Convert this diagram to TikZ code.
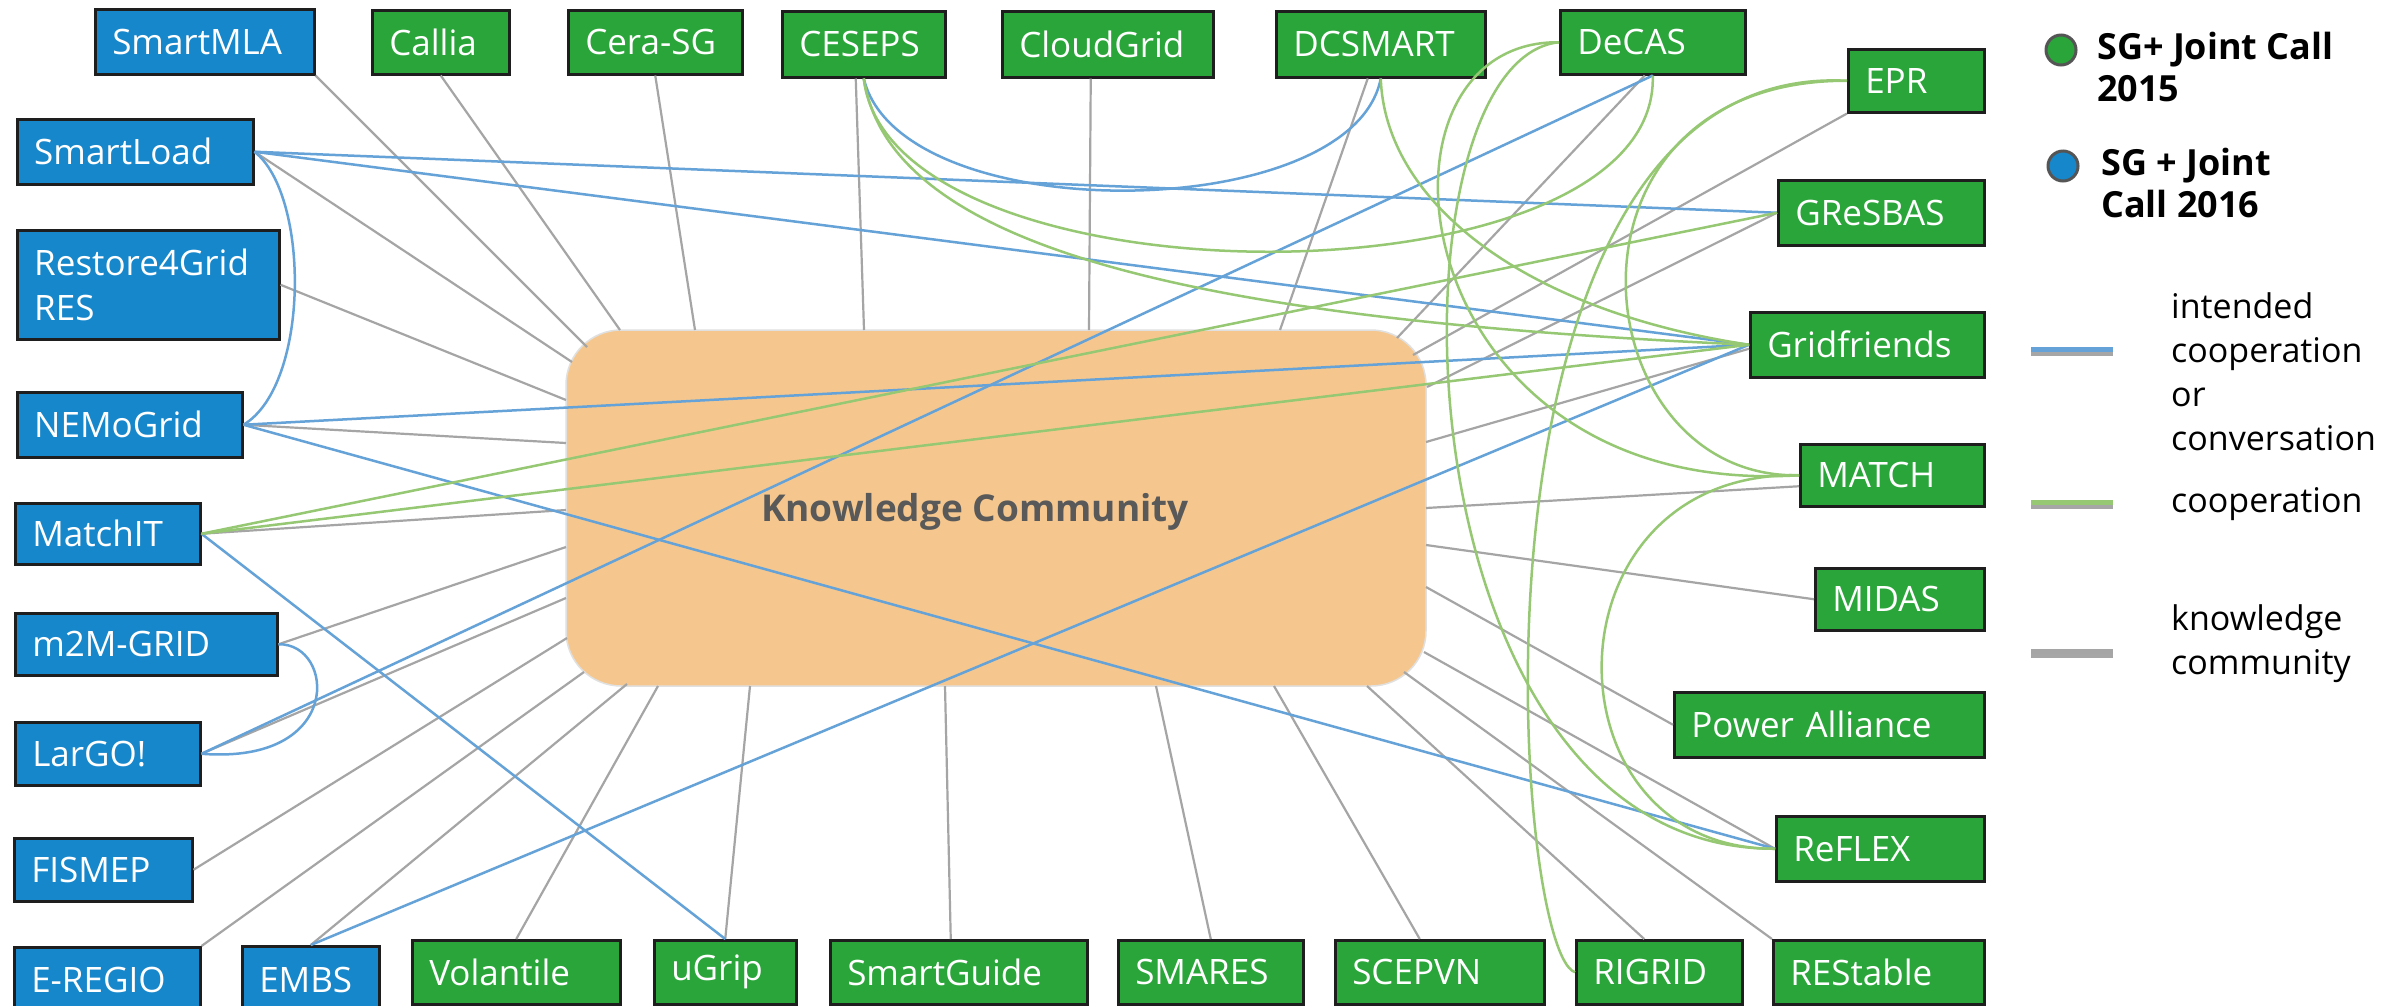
\documentclass[tikz,border=0pt]{standalone}
\usepackage{fontspec}
\setmainfont{Open Sans}
\usetikzlibrary{calc}
\definecolor{boxblue}{RGB}{23,135,203}
\definecolor{boxgreen}{RGB}{41,165,57}
\definecolor{boxline}{RGB}{30,30,30}
\definecolor{kcfill}{RGB}{245,199,142}
\definecolor{kctext}{RGB}{89,89,89}
\definecolor{lblue}{RGB}{100,162,215}
\definecolor{lgreen}{RGB}{150,200,115}
\definecolor{kgray}{RGB}{165,165,165}
\definecolor{legring}{RGB}{85,85,85}
\newcommand\pbox[7]{\node[#2, minimum width=#5pt-#3pt, minimum height=#6pt-#4pt, text width=#5pt-#3pt-34pt] (#1) at (#3,#4) {#7};}
\begin{document}
\begin{tikzpicture}[x=1pt,y=-1pt,
  proj/.style={draw=boxline, line width=2.5pt, text=white, font={\fontsize{35}{45}\selectfont}, inner xsep=17pt, inner ysep=0pt, align=left, anchor=north west},
  bluebox/.style={proj, fill=boxblue},
  greenbox/.style={proj, fill=boxgreen},
  kline/.style={draw=kgray, line width=2.2pt},
  bline/.style={draw=lblue, line width=2.5pt},
  gline/.style={draw=lgreen, line width=2.5pt},
  legtext/.style={font={\fontsize{34}{44}\selectfont}, align=left, anchor=west, inner sep=0pt, text=black},
  legtitle/.style={font={\bfseries\fontsize{36}{42}\selectfont}, align=left, anchor=west, inner sep=0pt, text=black},
  legdot/.style={circle, draw=legring, line width=3pt, minimum size=30pt, inner sep=0pt},
  legshadow/.style={draw=gray!70, line width=5pt},
]
\useasboundingbox (0,0) rectangle (2402,1005);
\clip (0,0) rectangle (2402,1005);
\fill[white] (0,0) rectangle (2402,1005);

% central knowledge community
\node[fill=kcfill, draw=black!12, line width=1.5pt, rounded corners=55pt, minimum width=860pt, minimum height=356pt, inner sep=0pt] (KC) at (996,508) {};

% project boxes: top row
\pbox{SmartMLA}{bluebox}{94}{8}{313}{73}{SmartMLA}
\pbox{Callia}{greenbox}{371}{9}{508}{73}{Callia}
\pbox{CeraSG}{greenbox}{567}{9}{741}{73}{Cera-SG}
\pbox{CESEPS}{greenbox}{781}{10}{944}{76}{CESEPS}
\pbox{CloudGrid}{greenbox}{1001}{10}{1212}{76}{CloudGrid}
\pbox{DCSMART}{greenbox}{1275}{10}{1484}{76}{DCSMART}
\pbox{DeCAS}{greenbox}{1559}{9}{1744}{73}{DeCAS}
% right column
\pbox{EPR}{greenbox}{1847}{48}{1983}{111}{EPR}
\pbox{GReSBAS}{greenbox}{1777}{179}{1983}{244}{GReSBAS}
\pbox{Gridfriends}{greenbox}{1749}{311}{1983}{376}{Gridfriends}
\pbox{MATCH}{greenbox}{1799}{443}{1983}{505}{MATCH}
\pbox{MIDAS}{greenbox}{1814}{567}{1983}{629}{MIDAS}
\pbox{PowerAll}{greenbox}{1673}{691}{1983}{756}{Power Alliance}
\pbox{ReFLEX}{greenbox}{1775}{815}{1983}{880}{ReFLEX}
\pbox{REStable}{greenbox}{1772}{939}{1983}{1003}{REStable}
% bottom row
\pbox{RIGRID}{greenbox}{1575}{939}{1741}{1003}{RIGRID}
\pbox{SCEPVN}{greenbox}{1334}{939}{1543}{1003}{SCEPVN}
\pbox{SMARES}{greenbox}{1117}{939}{1302}{1003}{SMARES}
\pbox{SmartGuide}{greenbox}{829}{939}{1086}{1003}{SmartGuide}
\pbox{uGrip}{greenbox}{653}{939}{795}{1003}{uGrip}
\pbox{Volantile}{greenbox}{411}{939}{619}{1003}{Volantile}
\pbox{EMBS}{bluebox}{241}{945}{378}{1012}{EMBS}
\pbox{EREGIO}{bluebox}{13}{946}{199}{1012}{E-REGIO}
% left column
\pbox{SmartLoad}{bluebox}{16}{118}{252}{183}{SmartLoad}
\pbox{Restore}{bluebox}{16}{229}{278}{338}{Restore4Grid\\RES}
\pbox{NEMoGrid}{bluebox}{16}{391}{241}{456}{NEMoGrid}
\pbox{MatchIT}{bluebox}{14}{502}{199}{563}{MatchIT}
\pbox{mMGRID}{bluebox}{14}{612}{276}{674}{m2M-GRID}
\pbox{LarGO}{bluebox}{14}{721}{199}{784}{LarGO!}
\pbox{FISMEP}{bluebox}{13}{837}{191}{900}{FISMEP}

% end points on the knowledge community border
\coordinate (kSmartMLA) at (587,347);
\coordinate (kCallia) at (620,330);
\coordinate (kCeraSG) at (695,330);
\coordinate (kCESEPS) at (864,330);
\coordinate (kCloudGrid) at (1089,330);
\coordinate (kDCSMART) at (1280,330);
\coordinate (kDeCAS) at (1397,338);
\coordinate (kEPR) at (1413,355);
\coordinate (kGReSBAS) at (1427,387);
\coordinate (kGridfriends) at (1426,442);
\coordinate (kMATCH) at (1426,508);
\coordinate (kMIDAS) at (1426,545);
\coordinate (kPowerAll) at (1426,587);
\coordinate (kReFLEX) at (1424,652);
\coordinate (kREStable) at (1404,672);
\coordinate (kRIGRID) at (1367,686);
\coordinate (kSCEPVN) at (1274,686);
\coordinate (kSMARES) at (1156,686);
\coordinate (kSmartGuide) at (945,686);
\coordinate (kuGrip) at (750,686);
\coordinate (kVolantile) at (658,686);
\coordinate (kEMBS) at (627,684);
\coordinate (kEREGIO) at (584,672);
\coordinate (kFISMEP) at (567,638);
\coordinate (kLarGO) at (566,598);
\coordinate (kmMGRID) at (566,547);
\coordinate (kMatchIT) at (566,510);
\coordinate (kNEMoGrid) at (566,443);
\coordinate (kRestore) at (566,400);
\coordinate (kSmartLoad) at (572,362);

% knowledge community links (grey)
\draw[kline] (SmartMLA.south east) -- (kSmartMLA);
\draw[kline] (Callia.south) -- (kCallia);
\draw[kline] (CeraSG.south) -- (kCeraSG);
\draw[kline] ([xshift=-8pt]CESEPS.south) -- (kCESEPS);
\draw[kline] ([xshift=-17pt]CloudGrid.south) -- (kCloudGrid);
\draw[kline] ([xshift=-13pt]DCSMART.south) -- (kDCSMART);
\draw[kline] ([xshift=-8pt]DeCAS.south) -- (kDeCAS);
\draw[kline] (EPR.south west) -- (kEPR);
\draw[kline] (GReSBAS.west) -- (kGReSBAS);
\draw[kline] ([yshift=-4pt]Gridfriends.west) -- (kGridfriends);
\draw[kline] ([yshift=-11pt]MATCH.west) -- (kMATCH);
\draw[kline] (MIDAS.west) -- (kMIDAS);
\draw[kline] (PowerAll.west) -- (kPowerAll);
\draw[kline] (ReFLEX.west) -- (kReFLEX);
\draw[kline] (REStable.north west) -- (kREStable);
\draw[kline] ([xshift=-15pt]RIGRID.north) -- (kRIGRID);
\draw[kline] ([xshift=-20pt]SCEPVN.north) -- (kSCEPVN);
\draw[kline] (SMARES.north) -- (kSMARES);
\draw[kline] ([xshift=-8pt]SmartGuide.north) -- (kSmartGuide);
\draw[kline] (uGrip.north) -- (kuGrip);
\draw[kline] (Volantile.north) -- (kVolantile);
\draw[kline] (EMBS.north) -- (kEMBS);
\draw[kline] (EREGIO.north east) -- (kEREGIO);
\draw[kline] (FISMEP.east) -- (kFISMEP);
\draw[kline] (LarGO.east) -- (kLarGO);
\draw[kline] (mMGRID.east) -- (kmMGRID);
\draw[kline] (MatchIT.east) -- (kMatchIT);
\draw[kline] (NEMoGrid.east) -- (kNEMoGrid);
\draw[kline] (Restore.east) -- (kRestore);
\draw[kline] (SmartLoad.east) -- (kSmartLoad);

% intended cooperation (blue)
\draw[bline] (SmartLoad.east) .. controls (310,195) and (310,385) .. (NEMoGrid.east);
\draw[bline] (SmartLoad.east) -- (GReSBAS.west);
\draw[bline] (SmartLoad.east) -- (Gridfriends.west);
\draw[bline] (NEMoGrid.east) -- (Gridfriends.west);
\draw[bline] (NEMoGrid.east) -- (ReFLEX.west);
\draw[bline] (CESEPS.south) .. controls (900,230) and (1352,226) .. (DCSMART.south);
\draw[bline] (LarGO.east) -- (DeCAS.south);
\draw[bline] (mMGRID.east) .. controls (335,643) and (345,765) .. (LarGO.east);
\draw[bline] (MatchIT.east) -- (uGrip.north);
\draw[bline] (EMBS.north) -- (Gridfriends.west);

% cooperation (green)
\draw[gline] (CESEPS.south) .. controls (890,310) and (1660,310) .. (DeCAS.south);
\draw[gline] (CESEPS.south) .. controls (890,250) and (1200,320) .. (Gridfriends.west);
\draw[gline] (MatchIT.east) -- (GReSBAS.west);
\draw[gline] (MatchIT.east) -- (Gridfriends.west);
\draw[gline] (DCSMART.south) .. controls (1385,200) and (1520,310) .. (Gridfriends.west);
\draw[gline] (DeCAS.west) .. controls (1380,60) and (1390,850) .. (ReFLEX.west);
\draw[gline] (DeCAS.west) .. controls (1350,40) and (1400,500) .. (MATCH.west);
\draw[gline] (EPR.west) .. controls (1450,60) and (1510,950) .. (RIGRID.west);
\draw[gline] (EPR.west) .. controls (1540,80) and (1580,480) .. (MATCH.west);
\draw[gline] (MATCH.west) .. controls (1540,470) and (1540,850) .. (ReFLEX.west);

% label of the centre
\node[font={\bfseries\fontsize{37}{42}\selectfont}, text=kctext, inner sep=0pt] (kclabel) at (975,512) {Knowledge Community};

% legend
\node[legdot, fill=boxgreen] (dot15) at (2061,50) {};
\node[legtitle] (leg15) at (2097,67) {SG+ Joint Call\\2015};
\node[legdot, fill=boxblue] (dot16) at (2063,166) {};
\node[legtitle] (leg16) at (2101,183) {SG + Joint\\Call 2016};

\coordinate (lb1) at (2031,349); \coordinate (lb2) at (2113,349);
\coordinate (lg1) at (2031,502); \coordinate (lg2) at (2113,502);
\coordinate (lk1) at (2031,651); \coordinate (lk2) at (2113,651);
\draw[legshadow] ([yshift=-4pt]lb1) -- ([yshift=-4pt]lb2);
\draw[draw=lblue, line width=5pt] (lb1) -- (lb2);
\draw[legshadow] ([yshift=-4pt]lg1) -- ([yshift=-4pt]lg2);
\draw[draw=lgreen, line width=5pt] (lg1) -- (lg2);
\draw[legshadow] ([yshift=-4pt]lk1) -- ([yshift=-4pt]lk2);
\draw[draw=kgray, line width=5pt] (lk1) -- (lk2);
\node[legtext] (legb) at (2171,372) {intended\\cooperation\\or\\conversation};
\node[legtext] (legg) at (2171,504) {cooperation};
\node[legtext] (legk) at (2171,644) {knowledge\\community};
\end{tikzpicture}
\end{document}
